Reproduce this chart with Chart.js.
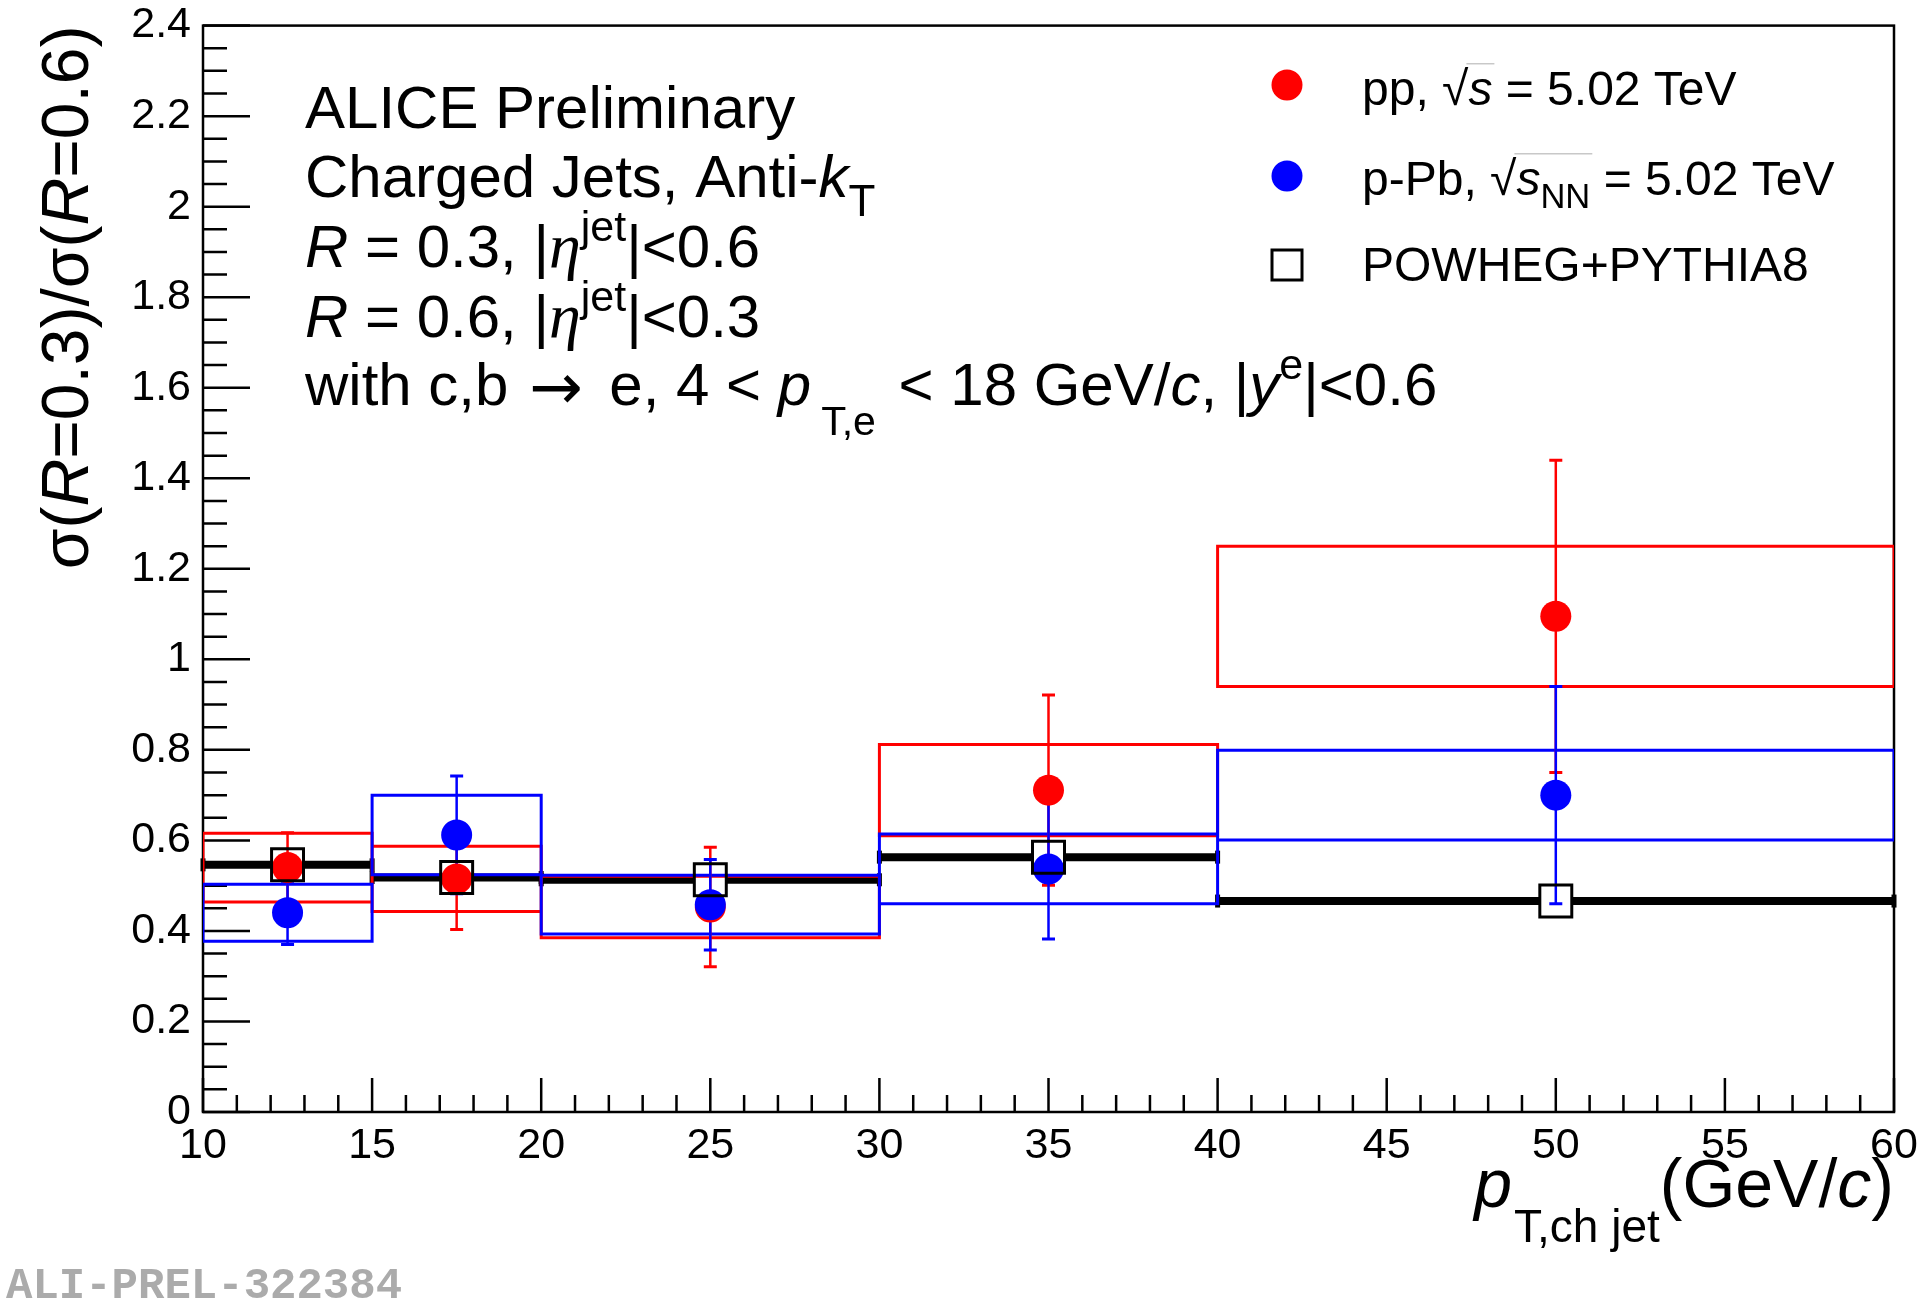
<!DOCTYPE html>
<html>
<head>
<meta charset="utf-8">
<title>sigma(R=0.3)/sigma(R=0.6)</title>
<script src="https://cdn.jsdelivr.net/npm/chart.js@4.4.1/dist/chart.umd.min.js"></script>
<style>
  html, body { margin: 0; padding: 0; background: #fff; }
  canvas { display: block; }
</style>
</head>
<body>
<canvas id="ratio_chart" width="1920" height="1302"></canvas>
<script>
// bins in pT,ch jet (GeV/c)
const binEdges = [10, 15, 20, 30, 40, 60];
const binCenters = [12.5, 17.5, 25, 35, 50];

// pp, sqrt(s) = 5.02 TeV
const ppValues = [0.540, 0.515, 0.453, 0.711, 1.095];
const ppStat = [0.077, 0.112, 0.132, 0.210, 0.345];
const ppSys = [0.076, 0.072, 0.068, 0.101, 0.155];

// p-Pb, sqrt(sNN) = 5.02 TeV
const pPbValues = [0.440, 0.612, 0.458, 0.537, 0.700];
const pPbStat = [0.070, 0.130, 0.100, 0.155, 0.240];
const pPbSys = [0.063, 0.088, 0.065, 0.077, 0.099];

// POWHEG+PYTHIA8
const powhegValues = [0.546, 0.518, 0.513, 0.563, 0.466];

const xTicks = [10, 15, 20, 25, 30, 35, 40, 45, 50, 55, 60];
const xTickLabels = ['10', '15', '20', '25', '30', '35', '40', '45', '50', '55', '60'];
const yTicks = [0, 0.2, 0.4, 0.6, 0.8, 1, 1.2, 1.4, 1.6, 1.8, 2, 2.2, 2.4];
const yTickLabels = ['0', '0.2', '0.4', '0.6', '0.8', '1', '1.2', '1.4', '1.6', '1.8', '2', '2.2', '2.4'];

const FONT = '"Liberation Sans", Arial, Helvetica, sans-serif';
const SERIF = '"Liberation Serif", "Times New Roman", serif';
const DJV = '"DejaVu Sans ExtraLight", "DejaVu Sans", sans-serif';

const boxPath = (values, sys) => {
    const pts = [];
    values.forEach((v, i) => {
        const x0 = binEdges[i], x1 = binEdges[i + 1];
        pts.push({x: x0, y: v - sys[i]}, {x: x1, y: v - sys[i]}, {x: x1, y: v + sys[i]},
                 {x: x0, y: v + sys[i]}, {x: x0, y: v - sys[i]}, {x: x0, y: null});
    });
    return pts;
};

const errorBars = (values, err) => {
    const pts = [];
    values.forEach((v, i) => {
        pts.push({x: binCenters[i], y: v - err[i]}, {x: binCenters[i], y: v + err[i]}, {x: binCenters[i], y: null});
    });
    return pts;
};

const steps = (values) => {
    const pts = [];
    values.forEach((v, i) => {
        pts.push({x: binEdges[i], y: v}, {x: binEdges[i + 1], y: v}, {x: binEdges[i + 1], y: null});
    });
    return pts;
};

const markers = (values) => binCenters.map((x, i) => ({x: x, y: values[i]}));

// rich text: runs of {t, size, dy, it, fam, gap}
const run = (t, size, dy, it, fam, gap) => ({t: t, size: size, dy: dy || 0, it: !!it, fam: fam || FONT, gap: gap || 0});
const setFont = (ctx, r) => { ctx.font = (r.it ? 'italic ' : '') + r.size + 'px ' + r.fam; };
const richWidth = (ctx, runs) => runs.reduce((w, r) => { setFont(ctx, r); return w + ctx.measureText(r.t).width + r.gap; }, 0);
const drawRich = (ctx, x, y, runs) => {
    runs.forEach(r => {
        setFont(ctx, r);
        ctx.fillText(r.t, x, y + r.dy);
        x += ctx.measureText(r.t).width + r.gap;
    });
    return x;
};

const sqrtRuns = (ctx, x, y, size, before, sub, after) => {
    let cx = drawRich(ctx, x, y, [run(before, size)]);
    cx = drawRich(ctx, cx, y, [run('\u221A', size)]);
    const barStart = cx - 2;
    cx = drawRich(ctx, cx, y, [run('s', size, 0, true)]);
    if (sub) cx = drawRich(ctx, cx, y, [run(sub, size * 0.72, 13)]);
    ctx.save();
    ctx.strokeStyle = '#c8c8c8';
    ctx.lineWidth = 1.5;
    ctx.beginPath();
    ctx.moveTo(barStart, y - size * 0.86);
    ctx.lineTo(cx + 2, y - size * 0.86);
    ctx.stroke();
    ctx.restore();
    drawRich(ctx, cx, y, [run(after, size)]);
};

const rootFrame = {
    id: 'rootFrame',
    beforeDatasetsDraw(chart) {
        const {ctx, chartArea: a, scales: {x, y}} = chart;
        ctx.save();
        ctx.strokeStyle = '#000';
        ctx.lineWidth = 2.5;
        ctx.strokeRect(a.left, a.top, a.right - a.left, a.bottom - a.top);
        ctx.beginPath();
        for (let k = 0; k <= 48; k++) {
            const py = y.getPixelForValue(k * 0.05);
            ctx.moveTo(a.left, py);
            ctx.lineTo(a.left + (k % 4 === 0 ? 47 : 24), py);
        }
        for (let v = 10; v <= 60; v++) {
            const px = x.getPixelForValue(v);
            ctx.moveTo(px, a.bottom);
            ctx.lineTo(px, a.bottom - (v % 5 === 0 ? 34 : 17));
        }
        ctx.stroke();
        ctx.restore();
    },
    afterDraw(chart) {
        const {ctx, chartArea: a} = chart;
        ctx.save();
        ctx.fillStyle = '#000';
        ctx.textBaseline = 'alphabetic';

        // text block
        const L = 305, S = 60, s = 43;
        drawRich(ctx, L, 128, [run('ALICE Preliminary', S)]);
        drawRich(ctx, L, 197, [run('Charged Jets, Anti-', S), run('k', S, 0, true), run('T', 44, 19)]);
        drawRich(ctx, L, 267, [run('R', S, 0, true), run(' = 0.3, |', S), run('\u03B7', 64, 0, true, SERIF),
                               run('jet', s, -26), run('|<0.6', S)]);
        drawRich(ctx, L, 337, [run('R', S, 0, true), run(' = 0.6, |', S), run('\u03B7', 64, 0, true, SERIF),
                               run('jet', s, -26), run('|<0.3', S)]);
        drawRich(ctx, L, 405, [run('with c,b ', S, 0, false, FONT, 4), run('\u2192', 64, 4, false, DJV, 10),
                               run(' e, 4 < ', S), run('p', S, 0, true, FONT, 10), run('T,e', 41, 30, false, FONT, 6),
                               run(' < 18 GeV/', S), run('c', S, 0, true), run(', |', S), run('y', S, 0, true),
                               run('e', s, -26), run('|<0.6', S)]);

        // legend
        const LX = 1287, TX = 1362, LS = 48;
        ctx.fillStyle = '#ff0000';
        ctx.beginPath(); ctx.arc(LX, 85, 15.5, 0, 2 * Math.PI); ctx.fill();
        ctx.fillStyle = '#0000ff';
        ctx.beginPath(); ctx.arc(LX, 176, 15.5, 0, 2 * Math.PI); ctx.fill();
        ctx.strokeStyle = '#000';
        ctx.lineWidth = 3;
        ctx.strokeRect(LX - 15, 250, 30, 30);
        ctx.fillStyle = '#000';
        sqrtRuns(ctx, TX, 105, LS, 'pp, ', null, ' = 5.02 TeV');
        sqrtRuns(ctx, TX, 195, LS, 'p-Pb, ', 'NN', ' = 5.02 TeV');
        drawRich(ctx, TX, 281, [run('POWHEG+PYTHIA8', LS)]);

        // x title, right aligned to axis end
        const xt = [run('p', 68, 0, true, FONT, 2), run('T,ch jet', 46, 35), run('(GeV/', 68), run('c', 68, 0, true), run(')', 68)];
        drawRich(ctx, a.right - richWidth(ctx, xt), 1207, xt);

        // y title, rotated, right aligned to axis top
        const yt = [run('\u03C3(', 66), run('R', 66, 0, true), run('=0.3)/\u03C3(', 66), run('R', 66, 0, true), run('=0.6)', 66)];
        ctx.save();
        ctx.translate(88, a.top);
        ctx.rotate(-Math.PI / 2);
        drawRich(ctx, -richWidth(ctx, yt), 0, yt);
        ctx.restore();

        // preliminary id
        ctx.fillStyle = '#ababab';
        ctx.font = 'bold 44px "Liberation Mono", "Courier New", monospace';
        ctx.fillText('ALI-PREL-322384', 6, 1298);
        ctx.restore();
    }
};

const ctx = document.getElementById('ratio_chart');

const lineSet = (data, color, width, order) => ({
    data: data, showLine: true, borderColor: color, borderWidth: width,
    pointRadius: 0, pointHoverRadius: 0, tension: 0, spanGaps: false,
    borderJoinStyle: 'miter', borderCapStyle: 'square', order: order
});

const errSet = (data, color, order) => ({
    data: data, showLine: true, borderColor: color, borderWidth: 2.5,
    pointStyle: 'line', pointRadius: 6.5, pointHoverRadius: 6.5, pointBorderWidth: 3,
    pointBorderColor: color, tension: 0, spanGaps: false, order: order
});

const dotSet = (data, color, order) => ({
    data: data, showLine: false, pointStyle: 'circle', pointRadius: 15.5, pointHoverRadius: 15.5,
    pointBackgroundColor: color, pointBorderWidth: 0, order: order
});

var myChart = new Chart(ctx, {
    type: 'scatter',
    data: {
        datasets: [
            {
                data: markers(powhegValues), showLine: false, pointStyle: 'rect', pointRadius: 22.6,
                pointHoverRadius: 22.6, pointBackgroundColor: 'rgba(0,0,0,0)', pointBorderColor: '#000',
                pointBorderWidth: 3, order: 0
            },
            dotSet(markers(pPbValues), '#0000ff', 1),
            dotSet(markers(ppValues), '#ff0000', 2),
            errSet(errorBars(pPbValues, pPbStat), '#0000ff', 3),
            errSet(errorBars(ppValues, ppStat), '#ff0000', 4),
            lineSet(boxPath(pPbValues, pPbSys), '#0000ff', 3, 5),
            lineSet(boxPath(ppValues, ppSys), '#ff0000', 3, 6),
            {
                data: markers(powhegValues), showLine: false, pointStyle: 'rect', pointRadius: 22.6,
                pointHoverRadius: 22.6, pointBackgroundColor: '#fff', pointBorderWidth: 0, order: 7
            },
            {
                data: steps(powhegValues), showLine: true, borderColor: '#000', borderWidth: 8,
                borderCapStyle: 'butt', tension: 0, spanGaps: false, clip: false,
                pointStyle: 'line', pointRotation: 90, pointRadius: 6.5, pointHoverRadius: 6.5,
                pointBorderWidth: 5, pointBorderColor: '#000', order: 8
            }
        ]
    },
    options: {
        responsive: false,
        devicePixelRatio: 1,
        animation: false,
        events: [],
        layout: { padding: { top: 17, right: 26, left: 0, bottom: 0 } },
        scales: {
            x: {
                type: 'linear', min: 10, max: 60,
                afterBuildTicks: (s) => { s.ticks = xTicks.map(v => ({value: v})); },
                afterFit: (s) => { s.height = 190; s.paddingLeft = 0; s.paddingRight = 0; },
                ticks: {
                    autoSkip: false, maxRotation: 0, minRotation: 0, padding: 8, color: '#000',
                    font: { family: FONT, size: 43 },
                    callback: (v) => xTickLabels[xTicks.indexOf(v)]
                },
                grid: { display: false, drawTicks: false },
                border: { display: false }
            },
            y: {
                type: 'linear', min: 0, max: 2.4,
                afterBuildTicks: (s) => { s.ticks = yTicks.map(v => ({value: v})); },
                afterFit: (s) => { s.width = 203; s.paddingTop = 0; s.paddingBottom = 0; },
                ticks: {
                    autoSkip: false, padding: 12, color: '#000',
                    font: { family: FONT, size: 43 },
                    callback: (v) => yTickLabels[yTicks.indexOf(v)]
                },
                grid: { display: false, drawTicks: false },
                border: { display: false }
            }
        },
        plugins: {
            legend: { display: false },
            tooltip: { enabled: false }
        }
    },
    plugins: [rootFrame]
});
</script>
</body>
</html>
